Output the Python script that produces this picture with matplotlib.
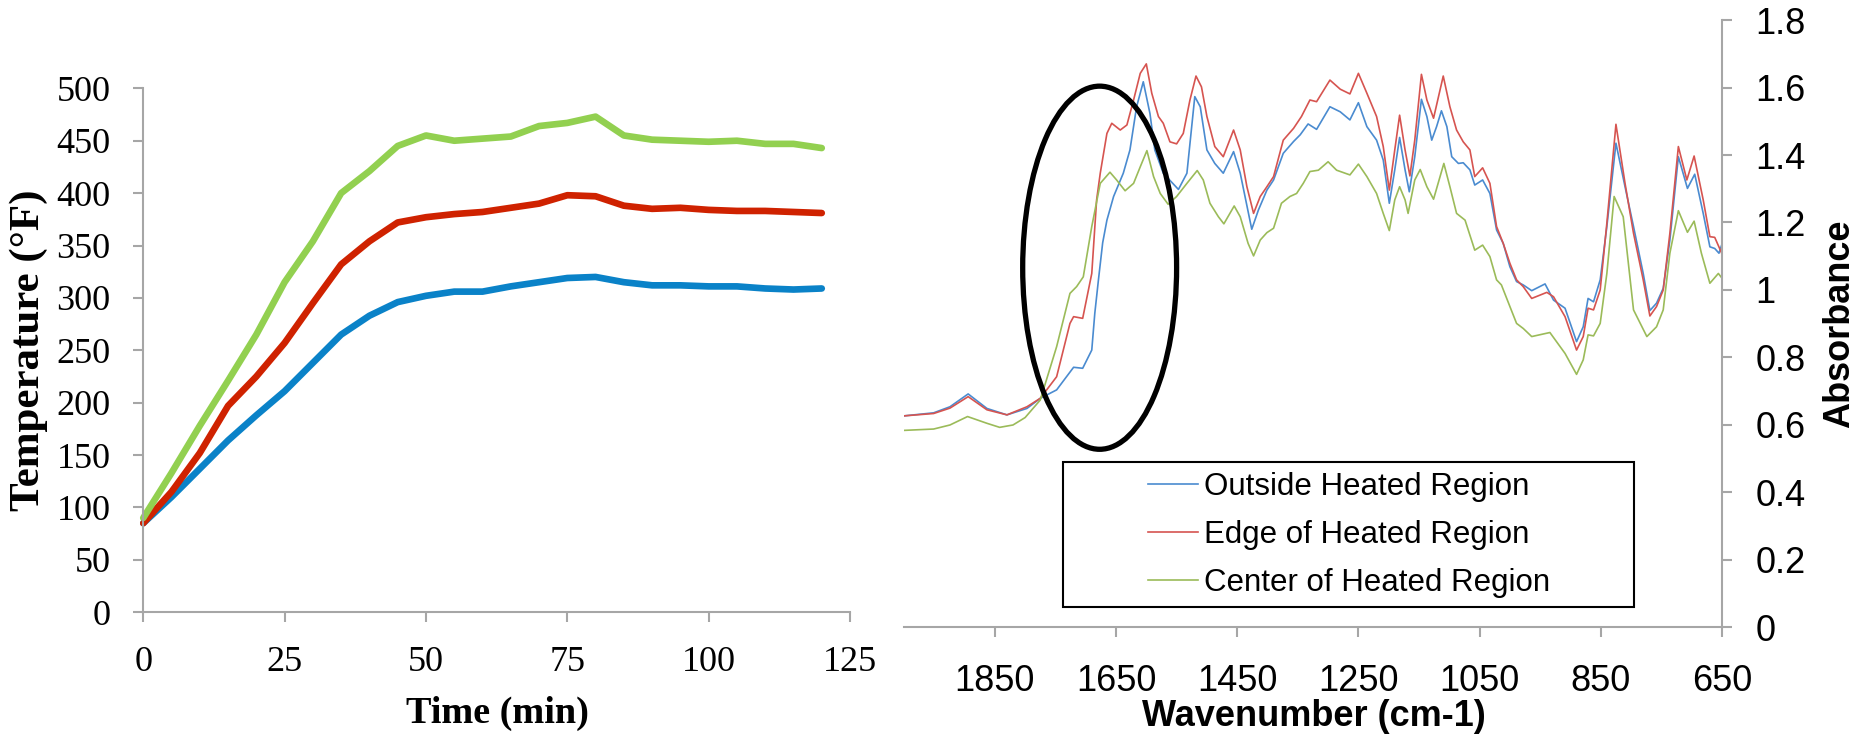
import numpy as np
import matplotlib
matplotlib.use('Agg')
import matplotlib.pyplot as plt
from matplotlib.patches import Ellipse, Rectangle

### DATA ###
# oven run: temperature vs time for the three spots
time_min = [0, 5, 10, 15, 20, 25, 30, 35, 40, 45, 50, 55, 60, 65, 70, 75, 80, 85, 90, 95, 100, 105, 110, 115, 120]
temp_blue = [85, 110, 137, 164, 188, 211, 238, 265, 283, 296, 302, 306, 306, 311, 315, 319, 320, 315, 312, 312, 311, 311, 309, 308, 309]
temp_red = [85, 115, 152, 197, 225, 257, 295, 332, 354, 372, 377, 380, 382, 386, 390, 398, 397, 388, 385, 386, 384, 383, 383, 382, 381]
temp_green = [90, 133, 178, 221, 265, 315, 354, 400, 421, 445, 455, 450, 452, 454, 464, 467, 473, 455, 451, 450, 449, 450, 447, 447, 443]

# FTIR spectra (wavenumber cm-1, absorbance)
wn_outside = [2000, 1951, 1924, 1894, 1863, 1830, 1797, 1775, 1748, 1720, 1705, 1690, 1685, 1679, 1672, 1665,
              1654, 1638, 1627, 1616, 1605, 1594, 1586, 1572, 1547, 1533, 1520, 1511, 1500, 1487, 1473, 1456,
              1445, 1426, 1415, 1401, 1390, 1374, 1357, 1346, 1333, 1319, 1297, 1280, 1264, 1250, 1236, 1220,
              1209, 1199, 1190, 1182, 1173, 1166, 1157, 1146, 1137, 1129, 1121, 1113, 1104, 1096, 1085, 1077,
              1066, 1058, 1045, 1033, 1022, 1011, 1000, 989, 978, 964, 942, 928, 909, 890, 879, 871,
              862, 851, 840, 825, 810, 796, 780, 769, 758, 747, 736, 722, 707, 695, 681, 670,
              662, 655, 650]
ab_outside = [0.627, 0.636, 0.654, 0.692, 0.649, 0.630, 0.649, 0.679, 0.704, 0.771, 0.768, 0.822, 0.931, 1.030, 1.140, 1.207,
              1.277, 1.346, 1.415, 1.543, 1.617, 1.523, 1.415, 1.346, 1.298, 1.346, 1.573, 1.543, 1.415, 1.375, 1.346, 1.410,
              1.346, 1.180, 1.237, 1.296, 1.326, 1.405, 1.440, 1.460, 1.492, 1.476, 1.543, 1.528, 1.504, 1.555, 1.484, 1.444,
              1.385, 1.257, 1.356, 1.452, 1.356, 1.291, 1.395, 1.565, 1.514, 1.444, 1.484, 1.531, 1.484, 1.395, 1.375, 1.377,
              1.356, 1.311, 1.326, 1.286, 1.178, 1.138, 1.069, 1.025, 1.015, 0.998, 1.018, 0.970, 0.946, 0.847, 0.891, 0.975,
              0.965, 1.030, 1.188, 1.435, 1.306, 1.188, 1.049, 0.939, 0.961, 1.005, 1.148, 1.395, 1.301, 1.343, 1.227, 1.128,
              1.123, 1.109, 1.136]

wn_edge = [2000, 1951, 1924, 1894, 1863, 1830, 1797, 1775, 1748, 1726, 1720, 1705, 1690, 1682, 1676, 1665,
           1657, 1643, 1632, 1621, 1610, 1600, 1591, 1580, 1572, 1561, 1550, 1539, 1528, 1518, 1509, 1500,
           1487, 1473, 1456, 1445, 1434, 1423, 1412, 1401, 1390, 1374, 1357, 1344, 1330, 1319, 1297, 1280,
           1264, 1250, 1236, 1220, 1209, 1199, 1190, 1182, 1173, 1165, 1157, 1146, 1137, 1126, 1110, 1099,
           1088, 1077, 1066, 1058, 1045, 1033, 1022, 1011, 1000, 989, 978, 964, 939, 928, 909, 890,
           879, 871, 862, 851, 840, 825, 810, 796, 780, 769, 758, 747, 736, 722, 708, 696,
           681, 670, 662, 650]
ab_edge = [0.627, 0.634, 0.650, 0.684, 0.645, 0.630, 0.654, 0.679, 0.743, 0.901, 0.921, 0.916, 1.049, 1.267, 1.346, 1.464,
           1.494, 1.474, 1.489, 1.563, 1.642, 1.670, 1.583, 1.514, 1.494, 1.439, 1.433, 1.464, 1.563, 1.634, 1.602, 1.514,
           1.425, 1.395, 1.474, 1.415, 1.306, 1.227, 1.277, 1.306, 1.336, 1.444, 1.479, 1.514, 1.563, 1.558, 1.622, 1.595,
           1.581, 1.642, 1.583, 1.514, 1.425, 1.296, 1.415, 1.518, 1.415, 1.338, 1.444, 1.639, 1.563, 1.509, 1.634, 1.543,
           1.474, 1.439, 1.415, 1.336, 1.362, 1.316, 1.188, 1.138, 1.079, 1.030, 1.010, 0.975, 0.993, 0.980, 0.921, 0.822,
           0.862, 0.946, 0.941, 1.000, 1.198, 1.491, 1.316, 1.168, 1.030, 0.923, 0.951, 1.000, 1.168, 1.425, 1.326, 1.397,
           1.267, 1.158, 1.156, 1.107]

wn_center = [2000, 1951, 1924, 1895, 1863, 1842, 1820, 1800, 1775, 1748, 1726, 1715, 1704, 1690, 1676, 1660,
             1649, 1635, 1621, 1610, 1599, 1588, 1577, 1564, 1550, 1533, 1516, 1506, 1495, 1481, 1472, 1455,
             1445, 1432, 1423, 1412, 1401, 1390, 1377, 1363, 1352, 1341, 1330, 1316, 1300, 1286, 1264, 1250,
             1236, 1220, 1209, 1199, 1190, 1182, 1173, 1168, 1157, 1148, 1137, 1126, 1109, 1099, 1088, 1074,
             1058, 1045, 1033, 1022, 1014, 1000, 989, 978, 964, 934, 909, 890, 879, 871, 862, 851,
             840, 828, 813, 796, 774, 758, 747, 736, 722, 707, 696, 684, 670, 656, 650]
ab_center = [0.584, 0.588, 0.600, 0.625, 0.605, 0.593, 0.600, 0.622, 0.674, 0.832, 0.990, 1.010, 1.039, 1.188, 1.316, 1.349,
             1.326, 1.294, 1.316, 1.365, 1.413, 1.336, 1.286, 1.254, 1.277, 1.316, 1.354, 1.326, 1.257, 1.217, 1.196, 1.249,
             1.217, 1.138, 1.101, 1.148, 1.170, 1.183, 1.257, 1.277, 1.286, 1.316, 1.351, 1.355, 1.380, 1.355, 1.341, 1.373,
             1.336, 1.286, 1.227, 1.176, 1.267, 1.306, 1.267, 1.227, 1.326, 1.357, 1.306, 1.269, 1.375, 1.306, 1.227, 1.207,
             1.118, 1.133, 1.099, 1.030, 1.015, 0.951, 0.901, 0.886, 0.862, 0.874, 0.812, 0.750, 0.793, 0.867, 0.864, 0.901,
             1.049, 1.277, 1.217, 0.941, 0.862, 0.891, 0.941, 1.109, 1.235, 1.171, 1.204, 1.109, 1.020, 1.049, 1.035]

spectra_names = ['Outside Heated Region', 'Edge of Heated Region', 'Center of Heated Region']

### STYLE ###
grau = '#A6A6A6'
serif = ['Liberation Serif', 'DejaVu Serif']
sans = ['Liberation Sans', 'DejaVu Sans']

fig = plt.figure(figsize=(18.58, 7.41), dpi=100)

#####################
### TEMPERATURE ###
#####################
ax1 = fig.add_axes([0.0771, 0.1737, 0.3804, 0.7071])
for ys, c in [(temp_blue, '#0A82C8'), (temp_red, '#CF2200'), (temp_green, '#92D050')]:
	ax1.plot(time_min, ys, color=c, lw=4.8, solid_joinstyle='round', solid_capstyle='round', clip_on=False)
ax1.set_xlim(0, 125)
ax1.set_ylim(0, 500)
ax1.set_xticks(np.arange(0, 126, 25))
ax1.set_yticks(np.arange(0, 501, 50))
for s in ['top', 'right']:
	ax1.spines[s].set_visible(False)
for s in ['left', 'bottom']:
	ax1.spines[s].set_color(grau)
	ax1.spines[s].set_linewidth(1.5)
ax1.tick_params(axis='both', direction='out', length=7.5, width=1.5, color=grau)
ax1.tick_params(axis='y', pad=16)
ax1.tick_params(axis='x', pad=17)
for t in ax1.get_xticklabels() + ax1.get_yticklabels():
	t.set_family(serif)
	t.set_fontsize(26)
fig.text(29/1858, 1-350/741, 'Temperature (°F)', rotation=90, ha='center', va='center',
	family=serif, fontsize=31, fontweight='bold')
fig.text(497/1858, 1-713/741, 'Time (min)', ha='center', va='center',
	family=serif, fontsize=27.5, fontweight='bold')

#################
### FTIR ###
#################
ax2 = fig.add_axes([0.4865, 0.1532, 0.4403, 0.8198])
lines = []
for wn, ab, c in [(wn_outside, ab_outside, '#4A8BD0'), (wn_edge, ab_edge, '#D65450'), (wn_center, ab_center, '#9BBB59')]:
	l, = ax2.plot(wn, ab, color=c, lw=1.2, solid_joinstyle='round')
	lines.append(l)
ax2.set_xlim(2000, 650)
ax2.set_ylim(0, 1.8)
ax2.set_xticks(np.arange(1850, 649, -200))
ax2.set_yticks(np.arange(0, 1.81, 0.2))
ax2.set_yticklabels(['%g' % round(v, 1) for v in np.arange(0, 1.81, 0.2)])
ax2.yaxis.tick_right()
for s in ['top', 'left']:
	ax2.spines[s].set_visible(False)
for s in ['right', 'bottom']:
	ax2.spines[s].set_color(grau)
	ax2.spines[s].set_linewidth(1.5)
ax2.tick_params(axis='both', direction='out', length=7, width=1.5, color=grau)
ax2.tick_params(axis='y', pad=17)
ax2.tick_params(axis='x', pad=19)
for t in ax2.get_xticklabels() + ax2.get_yticklabels():
	t.set_family(sans)
	t.set_fontsize(26)

# ring round the carbonyl region
ax2.add_patch(Ellipse((1677, 1.066), 254, 1.076, fill=False, lw=3.8, edgecolor='black', zorder=5, clip_on=False))

# legend box
box = [0.195, 0.033, 0.698, 0.239]
ax2.add_patch(Rectangle((box[0], box[1]), box[2], box[3], transform=ax2.transAxes,
	facecolor='white', edgecolor='black', lw=1.5, zorder=6))
leg = ax2.legend(lines, spectra_names, loc='center', bbox_to_anchor=box, frameon=False,
	prop={'family': sans, 'size': 22.5}, handlelength=1.6, handletextpad=0.2, labelspacing=0.58)
leg.set_zorder(7)

fig.text(1314/1858, 1-717/741, 'Wavenumber (cm-1)', ha='center', va='center',
	family=sans, fontsize=26, fontweight='bold')
fig.text(1840/1858, 1-324/741, 'Absorbance', rotation=90, ha='center', va='center',
	family=sans, fontsize=26, fontweight='bold')

### AUSGABE ###
fig.savefig('out.png', dpi=100)
